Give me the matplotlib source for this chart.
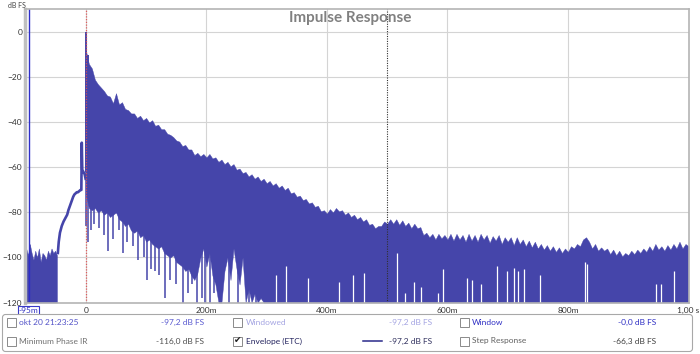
import numpy as np
import matplotlib.pyplot as plt
import matplotlib.transforms as mtransforms
from matplotlib.patches import FancyBboxPatch, Rectangle

plt.rcParams['font.family'] = ['Lato', 'DejaVu Sans']

# time in ms, level in dB FS
noise_t = [-102, -99, -96, -93, -90, -87, -84, -81, -78, -75, -72, -69, -66, -63, -60, -57, -54, -51, -48]
noise_db = [-101, -96, -99, -94, -98, -101, -97, -100, -96, -102, -98, -99, -101, -97, -99, -96, -98, -97, -99]

pre_t = [-46.5, -45, -43, -40, -37, -35, -33, -31, -29, -27, -25, -23, -21, -19, -17, -15, -13, -11, -9, -7.5, -6.8, -6, -4, -2, -0.5]
pre_db = [-98, -93, -89, -86, -84, -83, -82, -81, -79, -77.5, -76, -74.5, -73, -72, -71.5, -71, -71, -70.5, -70, -70, -49, -61, -62, -63, -65]

decay_t = np.arange(0, 1001, 5)
decay_top = [
    -8, -14, -16, -21, -23, -24.5, -26, -28, -28.5, -31.5, -27, -32, -31, -34, -34.5, -36, -36, -38, -37, -39,
    -38, -40, -39, -41.5, -41, -43, -43, -45, -45.5, -46.5, -48, -48.5, -50.5, -50, -52, -52, -54.5, -53.5, -55, -54,
    -55.5, -54, -56, -55.5, -57.5, -56.5, -58.5, -57.5, -59.5, -58.5, -61, -60.5, -62.5, -62, -64, -63, -65, -64, -66, -65,
    -67, -66, -68, -67, -69, -68, -70, -69, -71.5, -71, -73, -72.5, -74.5, -74, -76, -75.5, -77.5, -77, -79.5, -79,
    -80.5, -78.5, -80, -78, -79.5, -79, -81, -80, -82, -81, -83, -82, -84, -83, -85.5, -85, -87, -86, -86, -84,
    -85, -83, -85, -83, -85.5, -83.5, -86, -84.5, -87, -85, -87, -86.5, -90, -89, -91, -89.5, -92, -89.5, -91.5, -90,
    -92, -89.5, -92.5, -89.5, -92, -90, -93, -89.5, -92.5, -90, -93, -89.5, -92, -90, -93.5, -90.5, -92.5, -90, -94, -91,
    -93, -91, -94.5, -91, -94, -92, -95, -92.5, -95.5, -93, -96, -94, -96.5, -94.5, -97, -95, -97.5, -95.5, -98, -96,
    -97.5, -95, -96, -94, -95, -92, -91, -93, -96, -94, -97, -95.5, -97, -96, -98.5, -96.5, -99, -97, -99.5, -98,
    -99, -97, -98.5, -96.5, -98, -96, -97.5, -95, -97, -94, -96.5, -95, -97, -94.5, -96.5, -94, -96, -93, -96, -94,
    -95,
]
# lower edge of the solid trace for 0..295 ms, later it sits on the -120 floor
decay_floor_early = [
    -72, -78, -79, -78, -80, -79, -81, -80, -82, -81, -80, -83, -84, -86, -85, -88, -89, -88, -91, -90,
    -93, -92, -94, -95, -96, -95, -98, -99, -100, -99, -102, -103, -104, -106, -105, -108, -110, -107, -100, -96,
    -104, -98, -108, -112, -120, -120, -106, -100, -110, -96, -105, -112, -100, -120, -114, -120, -116, -120, -118, -120,
]

peak_t = [0, 3]
peak_db = [0, -10]

dips_t = [1, 3, 8, 14, 22, 30, 37, 45, 55, 62, 68, 78, 87, 97, 101, 108, 115, 122, 132, 140, 150, 162, 170, 176,
          185, 192, 198, 206, 212, 224, 238, 252, 270, 282]
dips_db = [-86, -93, -88, -85, -87, -90, -97, -92, -88, -98, -93, -95, -101, -100, -110, -105, -106, -108, -118, -110,
           -112, -120, -116, -112, -120, -118, -120, -120, -116, -120, -120, -120, -120, -120]

gaps_t = [315, 332, 368, 420, 443, 461, 516, 530, 545, 556, 585, 592, 632, 641, 655, 683, 698, 710, 717, 727, 754,
          829, 832, 946, 955, 976]
gaps_db = [-108, -104, -109, -111, -108, -107, -98, -116, -111, -113, -116, -105, -109, -110, -112, -104, -106, -104.5,
           -106, -105, -108, -102, -103, -112, -112, -106]

x_ticks = [0, 200, 400, 600, 800, 1000]
x_labels = ['0', '200m', '400m', '600m', '800m', '1,00 s']
y_ticks = [0, -20, -40, -60, -80, -100, -120]

window_start = -95
ir_start = 0
window_end = 500

IR = '#4545aa'
FLOOR = -120

fig = plt.figure(figsize=(7, 3.54), dpi=100)
ax = fig.add_axes([25 / 700, 1 - 302.5 / 354, 663.5 / 700, 293.5 / 354])
ax.set_xlim(-101, 1000)
ax.set_ylim(FLOOR, 10.4)

floor = np.concatenate([decay_floor_early, np.full(len(decay_t) - len(decay_floor_early), FLOOR)])

ax.fill_between(noise_t, FLOOR, noise_db, color=IR, lw=0.3)
ax.plot(pre_t, pre_db, color=IR, lw=1.9)
ax.fill_between(decay_t, floor, decay_top, color=IR, lw=0.3)
ax.vlines(peak_t, -62, peak_db, color=IR, lw=1.4)
ax.vlines(dips_t, dips_db, np.interp(dips_t, decay_t, decay_top) - 3, color=IR, lw=1.1)
ax.vlines(gaps_t, FLOOR, gaps_db, color='white', lw=0.9)

ax.axvline(window_start, color='#2e2ec8', lw=1.0)
ax.axvline(ir_start, color='#e05050', lw=0.9, ls=(0, (1, 1.2)), alpha=0.9)
ax.axvline(window_end, color='#303030', lw=0.8, ls=(0, (1, 1.2)))

ax.set_xticks(x_ticks)
ax.set_xticklabels(x_labels)
ax.set_yticks(y_ticks)
ax.grid(color='#d4d4d4', lw=0.8)
ax.set_axisbelow(True)
ax.tick_params(axis='both', length=0, labelsize=6, colors='#333333')
ax.tick_params(axis='x', pad=3.5)
ax.tick_params(axis='y', pad=2)
for side in ['top', 'right', 'bottom']:
    ax.spines[side].set_color('#b4b4b4')
    ax.spines[side].set_linewidth(1.2)
ax.spines['left'].set_color('#c0c0c0')
ax.spines['left'].set_linewidth(2.5)

trans = mtransforms.blended_transform_factory(ax.transData, ax.transAxes)
ax.text(window_start, -0.017, '-95m', transform=trans, ha='center', va='top', fontsize=6, color='#3030c0',
        bbox=dict(boxstyle='square,pad=0.12', fc='white', ec='#3a3ac8', lw=0.8), clip_on=False)

# overlay in pixel coordinates for title and legend panel
ov = fig.add_axes([0, 0, 1, 1], zorder=5)
ov.set_xlim(0, 700)
ov.set_ylim(354, 0)
ov.axis('off')

ov.text(350, 18, 'Impulse Response', ha='center', va='center', fontsize=11, fontweight='bold', color='#808080')
ov.text(8, 5, 'dB FS', ha='left', va='center', fontsize=5, color='#444444')

ov.add_patch(FancyBboxPatch((2.5, 314.5), 690, 37, boxstyle='round,pad=0,rounding_size=3',
                            fc='white', ec='#a8a8a8', lw=0.8))

rows = [
    (322.5, [('okt 20 21:23:25', '#5252c8', '-97,2 dB FS', '#5a5ad0', False),
             ('Windowed', '#a4a4e2', '-97,2 dB FS', '#a4a4e2', False),
             ('Window', '#2f2fc4', '-0,0 dB FS', '#2f2fc4', False)]),
    (341, [('Minimum Phase IR', '#707070', '-116,0 dB FS', '#505050', False),
           ('Envelope (ETC)', '#23235e', '-97,2 dB FS', '#30305e', True),
           ('Step Response', '#606060', '-66,3 dB FS', '#404040', False)]),
]
box_x = [7, 233, 460]
label_x = [19, 246, 472]
value_x = [204, 432, 656]

for yc, items in rows:
    for i, (label, lc, value, vc, checked) in enumerate(items):
        ov.add_patch(Rectangle((box_x[i], yc - 4.5), 9, 9, fc='white', ec='#8a8a8a', lw=0.7))
        if checked:
            ov.text(box_x[i] + 4.7, yc, '\u2714', ha='center', va='center', fontsize=6.5, color='#202020',
                    family=['DejaVu Sans'])
        ov.text(label_x[i], yc, label, ha='left', va='center', fontsize=6, color=lc)
        ov.text(value_x[i], yc, value, ha='right', va='center', fontsize=6, color=vc)

ov.plot([363, 382], [341, 341], color='#2a2a8a', lw=1.1)

fig.savefig('out.png', dpi=100)
